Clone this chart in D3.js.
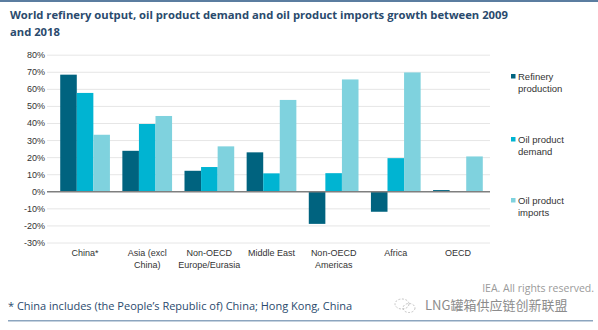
<!DOCTYPE html>
<html lang="en">
<head>
<meta charset="UTF-8" />
<title>World refinery output, oil product demand and imports growth</title>
<script src="https://d3js.org/d3.v7.min.js"></script>
<style>
  body { margin: 0; background: #fff; }
  svg { display: block; }
  .tick-label { font: 9px "Liberation Sans", Arial, sans-serif; fill: #333; }
  .legend-text { font: 9.5px "Liberation Sans", Arial, sans-serif; fill: #333; }
</style>
</head>
<body>
<div id="chart"></div>
<script>
// chart data
const categories = ["China*", "Asia (excl China)", "Non-OECD Europe/Eurasia", "Middle East",
                    "Non-OECD Americas", "Africa", "OECD"];
const categoryLines = [["China*"], ["Asia (excl", "China)"], ["Non-OECD", "Europe/Eurasia"],
                       ["Middle East"], ["Non-OECD", "Americas"], ["Africa"], ["OECD"]];
const seriesNames = ["Refinery production", "Oil product demand", "Oil product imports"];
const legendLines = [["Refinery", "production"], ["Oil product", "demand"], ["Oil product", "imports"]];
const refinery = [68.6, 24.0, 12.3, 23.1, -18.8, -11.7, 1.0];
const demand   = [57.9, 39.7, 14.5, 10.8, 10.9, 19.7, 0];
const imports  = [33.4, 44.4, 26.6, 53.8, 65.8, 69.9, 20.7];
const yTicks = [-30, -20, -10, 0, 10, 20, 30, 40, 50, 60, 70, 80];
const colors = ["#00637f", "#00b4d2", "#7fd2de"];

const width = 598, height = 330;
const svg = d3.select("#chart").append("svg")
  .attr("width", width).attr("height", height);

// top and bottom rules
svg.append("rect").attr("x", 0).attr("y", 0).attr("width", width).attr("height", 2).attr("fill", "#5b7da0");
svg.append("rect").attr("x", 8).attr("y", 320).attr("width", 585).attr("height", 1.5).attr("fill", "#8ca5bf");

// title
const title = svg.append("text")
  .attr("x", 10).attr("y", 19)
  .attr("fill", "#2a4a6d")
  .style("font", "bold 14px 'Open Sans', sans-serif");
title.append("tspan").attr("x", 10).attr("y", 19)
  .text("World refinery output, oil product demand and oil product imports growth between 2009");
title.append("tspan").attr("x", 10).attr("y", 36).text("and 2018");
// squeeze title to the reference width
const firstLine = title.select("tspan").node();
const w0 = firstLine.getComputedTextLength();
title.style("font-size", (14 * 498 / w0).toFixed(2) + "px");

// scales
const y = d3.scaleLinear().domain([-30, 80]).range([243, 55.2]);
const x0 = d3.scaleBand().domain(categories).range([54, 489]).paddingInner(0.2).paddingOuter(0.1);
const x1 = d3.scaleBand().domain(seriesNames).range([0, x0.bandwidth()]);

// gridlines
svg.append("g").selectAll("line").data(yTicks.filter(d => d !== 0)).join("line")
  .attr("x1", 47).attr("x2", 490)
  .attr("y1", d => y(d)).attr("y2", d => y(d))
  .attr("stroke", "#e6e6e6").attr("stroke-width", 1);

// y axis labels
svg.append("g").selectAll("text").data(yTicks).join("text")
  .attr("class", "tick-label")
  .attr("x", 45).attr("y", d => y(d) + 3)
  .attr("text-anchor", "end")
  .text(d => d + "%");

// bars
const rows = categories.map((c, i) => ({ cat: c, vals: [refinery[i], demand[i], imports[i]] }));
const groups = svg.append("g").selectAll("g").data(rows).join("g")
  .attr("transform", d => `translate(${x0(d.cat)},0)`);
groups.selectAll("rect")
  .data(d => d.vals.map((v, k) => ({ name: seriesNames[k], v, k })).filter(e => e.v !== 0))
  .join("rect")
  .attr("x", e => x1(e.name))
  .attr("width", x1.bandwidth())
  .attr("y", e => y(Math.max(0, e.v)))
  .attr("height", e => Math.abs(y(e.v) - y(0)))
  .attr("fill", e => colors[e.k]);

// zero line
svg.append("line")
  .attr("x1", 47).attr("x2", 490).attr("y1", y(0)).attr("y2", y(0))
  .attr("stroke", "#7f7f7f").attr("stroke-width", 1.5);

// category labels
const catLabels = svg.append("g").selectAll("text").data(categories).join("text")
  .attr("class", "tick-label")
  .attr("text-anchor", "middle");
catLabels.each(function(c, i) {
  const t = d3.select(this);
  categoryLines[i].forEach((ln, j) => {
    t.append("tspan").attr("x", x0(c) + x0.bandwidth() / 2).attr("y", 256 + j * 11.5).text(ln);
  });
});

// legend
const legendY = [74, 137, 198];
const lg = svg.append("g").selectAll("g").data(seriesNames).join("g")
  .attr("transform", (d, i) => `translate(511,${legendY[i]})`);
lg.append("rect").attr("width", 4.5).attr("height", 4.5).attr("fill", (d, i) => colors[i]);
lg.append("text").attr("class", "legend-text")
  .each(function(d, i) {
    legendLines[i].forEach((ln, j) => {
      d3.select(this).append("tspan").attr("x", 7).attr("y", 6 + j * 11.5).text(ln);
    });
  });

// footer
svg.append("text")
  .attr("x", 594).attr("y", 292).attr("text-anchor", "end")
  .attr("fill", "#9a9a9a")
  .style("font", "10.5px 'Open Sans', sans-serif")
  .text("IEA. All rights reserved.");
svg.append("text")
  .attr("x", 8).attr("y", 310)
  .attr("fill", "#2a4a6d")
  .style("font", "500 11px 'Open Sans', sans-serif")
  .text("* China includes (the People\u2019s Republic of) China; Hong Kong, China");

// watermark
const wm = svg.append("g").attr("transform", "translate(394,299)").attr("fill", "none")
  .attr("stroke", "#b5b5b5").attr("stroke-width", 0.8);
wm.append("ellipse").attr("cx", 8).attr("cy", 5).attr("rx", 7).attr("ry", 5).attr("stroke-dasharray", "2,1.5");
wm.append("ellipse").attr("cx", 15).attr("cy", 9).attr("rx", 6).attr("ry", 4.5).attr("stroke-dasharray", "2,1.5");
svg.append("text")
  .attr("x", 425).attr("y", 310)
  .attr("fill", "#8c8c8c")
  .style("font", "13px 'Noto Sans CJK SC', sans-serif")
  .text("LNG罐箱供应链创新联盟");
</script>
</body>
</html>
